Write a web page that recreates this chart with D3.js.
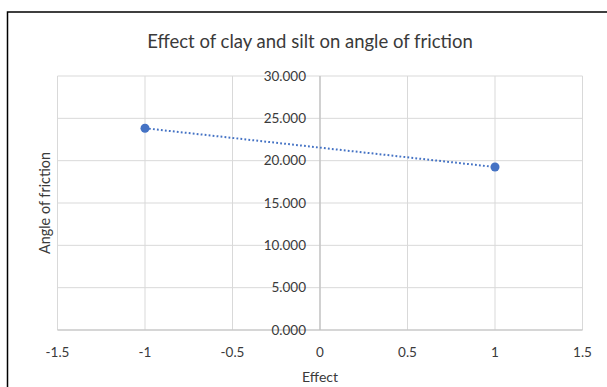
<!DOCTYPE html>
<html><head><meta charset="utf-8">
<script src="https://cdn.jsdelivr.net/npm/d3@7"></script>
<style>
body{margin:0;background:#fff;}
text{font-family:Lato,"Open Sans",sans-serif;fill:#3a3a3a;}
</style></head>
<body>
<svg id="c" width="607" height="387"></svg>
<script>
const effects = [-1, 1];
const angles = [23.83, 19.25];
const xTicks = [-1.5, -1, -0.5, 0, 0.5, 1, 1.5];
const yTicks = [0, 5, 10, 15, 20, 25, 30];
const title = "Effect of clay and silt on angle of friction";
const xTitle = "Effect";
const yTitle = "Angle of friction";

const svg = d3.select("#c");
svg.append("rect").attr("x",0).attr("y",0).attr("width",607).attr("height",387).attr("fill","#fff");
svg.append("rect").attr("x",7.5).attr("y",12).attr("width",640).attr("height",420)
  .attr("fill","none").attr("stroke","#000").attr("stroke-width",1.5);

const x = d3.scaleLinear().domain([-1.5,1.5]).range([57.5,582.5]);
const y = d3.scaleLinear().domain([0,30]).range([330,76]);

svg.append("g").selectAll("line").data(xTicks).join("line")
  .attr("x1",d=>x(d)).attr("x2",d=>x(d)).attr("y1",y(30)).attr("y2",y(0))
  .attr("stroke","#d9d9d9").attr("stroke-width",1);
svg.append("g").selectAll("line").data(yTicks).join("line")
  .attr("x1",x(-1.5)).attr("x2",x(1.5)).attr("y1",d=>y(d)).attr("y2",d=>y(d))
  .attr("stroke","#d9d9d9").attr("stroke-width",1);

svg.append("line").attr("x1",x(0)).attr("x2",x(0)).attr("y1",y(30)).attr("y2",y(0))
  .attr("stroke","#bfbfbf").attr("stroke-width",1.2);
svg.append("line").attr("x1",x(-1.5)).attr("x2",x(1.5)).attr("y1",y(0)).attr("y2",y(0))
  .attr("stroke","#bfbfbf").attr("stroke-width",1.2);

svg.append("g").selectAll("text").data(yTicks).join("text")
  .attr("x",x(0)-14).attr("y",d=>y(d)).attr("dy","0.35em")
  .attr("text-anchor","end").attr("font-size",13.5)
  .text(d=>d3.format(".3f")(d));

svg.append("g").selectAll("text").data(xTicks).join("text")
  .attr("x",d=>x(d)).attr("y",352).attr("dy","0.35em")
  .attr("text-anchor","middle").attr("font-size",13.5)
  .text(d=>String(d));

const pts = effects.map((e,i)=>[e,angles[i]]);
svg.append("path").datum(pts)
  .attr("d",d3.line().x(d=>x(d[0])).y(d=>y(d[1])))
  .attr("fill","none").attr("stroke","#4472c4").attr("stroke-width",2)
  .attr("stroke-dasharray","1.8,2.2");
svg.append("g").selectAll("circle").data(pts).join("circle")
  .attr("cx",d=>x(d[0])).attr("cy",d=>y(d[1])).attr("r",4.5)
  .attr("fill","#4472c4");

svg.append("text").attr("x",310).attr("y",42).attr("dy","0.35em")
  .attr("text-anchor","middle").attr("font-size",18.5).text(title);
svg.append("text").attr("x",x(0)).attr("y",377).attr("dy","0.35em")
  .attr("text-anchor","middle").attr("font-size",14).text(xTitle);
svg.append("text").attr("transform","translate(45,203) rotate(-90)").attr("dy","0.35em")
  .attr("text-anchor","middle").attr("font-size",14.4).text(yTitle);
</script>
</body></html>
